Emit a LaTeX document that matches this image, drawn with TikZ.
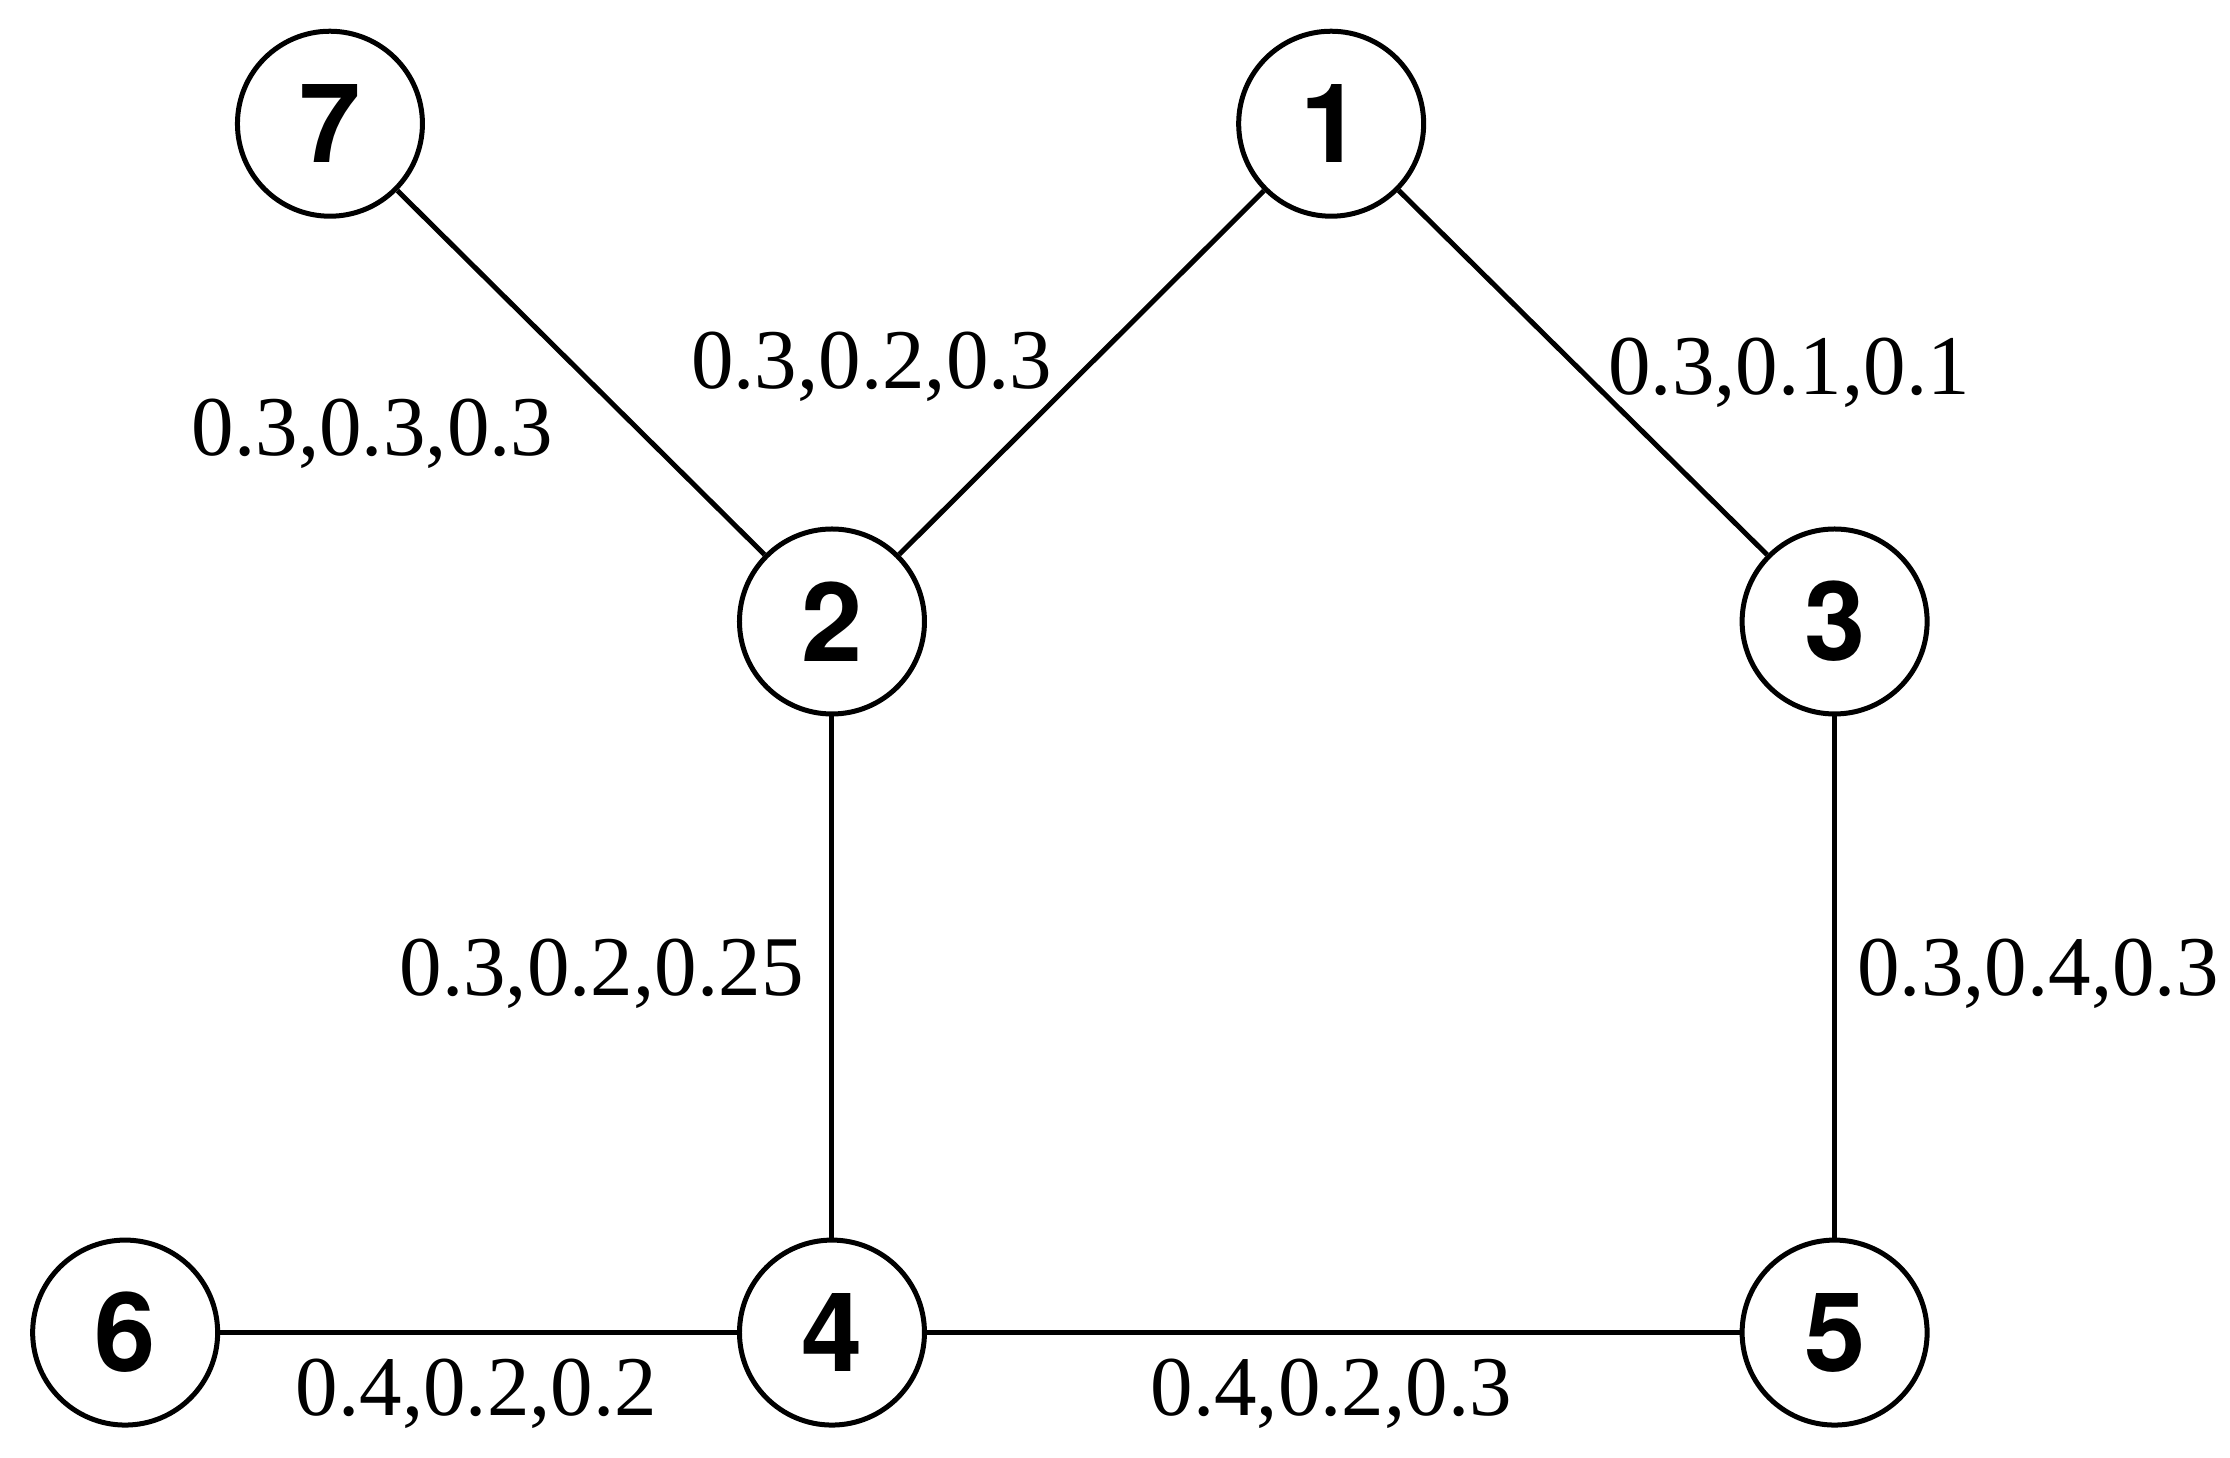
\documentclass[tikz,border=0pt]{standalone}
\usepackage{fontspec}
\setmainfont{TeX Gyre Heros}
\newfontfamily\lblfont{Liberation Serif}
\begin{document}
\begin{tikzpicture}[x=0.01cm,y=-0.01cm,
  vert/.style={circle,draw,line width=1pt,minimum size=1.3cm,inner sep=0pt,font=\fontsize{22}{24}\selectfont\bfseries},
  lbl/.style={font=\lblfont\fontsize{17}{19}\selectfont},
  edge/.style={line width=1pt}]
\useasboundingbox (0,0) rectangle (1568,1025);
\node[vert] (n7) at (232,87) {7};
\node[vert] (n1) at (936,87) {1};
\node[vert] (n2) at (585,437) {2};
\node[vert] (n3) at (1290,437) {3};
\node[vert] (n6) at (88,937) {6};
\node[vert] (n4) at (585,937) {4};
\node[vert] (n5) at (1290,937) {5};
\draw[edge] (n7) -- (n2);
\draw[edge] (n1) -- (n2);
\draw[edge] (n1) -- (n3);
\draw[edge] (n2) -- (n4);
\draw[edge] (n3) -- (n5);
\draw[edge] (n6) -- (n4);
\draw[edge] (n4) -- (n5);
\node[lbl] (l72) at (262,305) {0.3,0.3,0.3};
\node[lbl] (l12) at (613,258) {0.3,0.2,0.3};
\node[lbl] (l13) at (1258,262) {0.3,0.1,0.1};
\node[lbl] (l24) at (423,685) {0.3,0.2,0.25};
\node[lbl] (l35) at (1433,685) {0.3,0.4,0.3};
\node[lbl] (l64) at (335,980) {0.4,0.2,0.2};
\node[lbl] (l45) at (936,980) {0.4,0.2,0.3};
\end{tikzpicture}
\end{document}
